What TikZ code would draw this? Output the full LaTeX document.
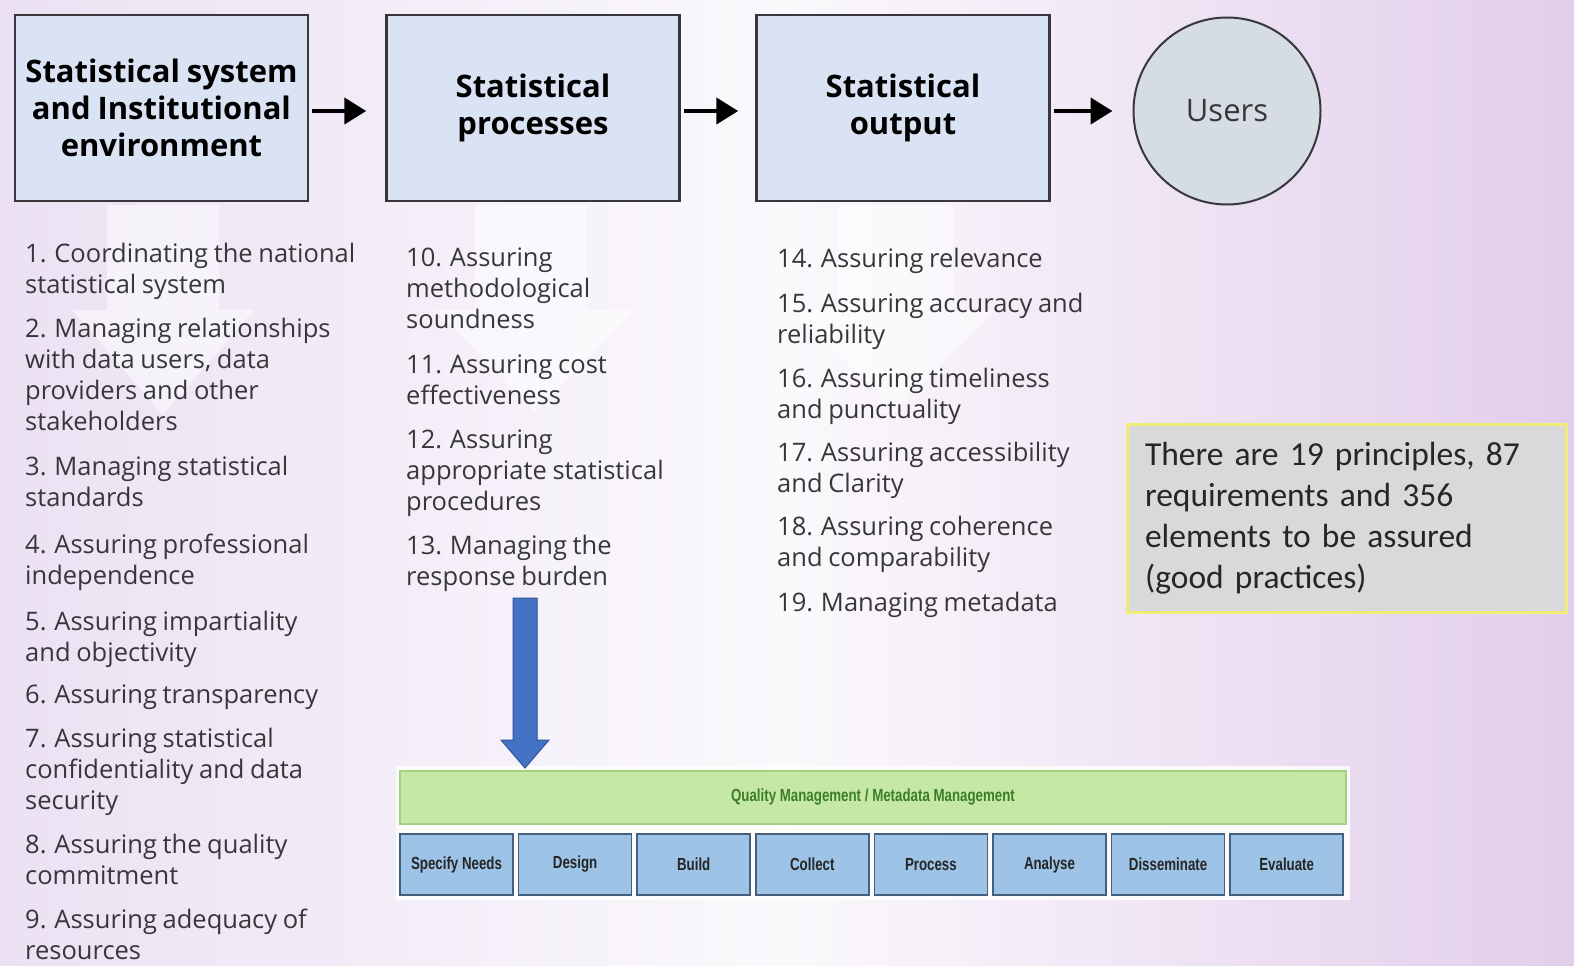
\documentclass[tikz,border=0pt]{standalone}
\usepackage{fontspec}
\setmainfont{Open Sans}[WordSpace=0.85]
\newfontfamily\calib{Carlito}[WordSpace=0.85]
\newfontfamily\cond{Liberation Sans}[FakeStretch=0.76]
\usetikzlibrary{arrows.meta,shapes.geometric}
\definecolor{bgL}{RGB}{235,225,243}
\definecolor{bgM}{RGB}{251,249,252}
\definecolor{bgR}{RGB}{226,206,235}
\definecolor{boxblue}{RGB}{218,227,243}
\definecolor{boxborder}{RGB}{55,55,60}
\definecolor{usersfill}{RGB}{214,220,228}
\definecolor{txt}{RGB}{55,55,58}
\definecolor{arrowblue}{RGB}{68,114,196}
\definecolor{arrowblueD}{RGB}{47,85,151}
\definecolor{qmgreen}{RGB}{197,233,165}
\definecolor{qmborder}{RGB}{160,210,130}
\definecolor{qmtext}{RGB}{60,125,40}
\definecolor{gblue}{RGB}{157,195,230}
\definecolor{gborder}{RGB}{70,95,125}
\definecolor{notefill}{RGB}{217,217,217}
\definecolor{noteborder}{RGB}{240,236,120}
\tikzset{
  titlebox/.style={draw=boxborder, line width=2.5pt, fill=boxblue, minimum width=293pt,
    minimum height=186pt, font=\bfseries\fontsize{31}{37}\selectfont, align=center, text=black},
  usersnode/.style={circle, draw=boxborder, line width=2pt, fill=usersfill, minimum size=187pt,
    font=\fontsize{31}{36}\selectfont, text=txt},
  conn/.style={line width=4.5pt, black, -{Triangle[length=22pt,width=26pt]}, shorten <=3pt},
  item/.style={anchor=north west, inner sep=0pt, align=left, font=\fontsize{25.5}{31}\selectfont, text=txt},
  qmbar/.style={draw=qmborder, line width=1.5pt, fill=qmgreen, minimum width=946pt, minimum height=53pt,
    font=\cond\bfseries\fontsize{17.5}{19}\selectfont, text=qmtext},
  gbox/.style={draw=gborder, line width=1.5pt, fill=gblue, minimum width=113pt, minimum height=61pt,
    font=\cond\bfseries\fontsize{17.5}{20}\selectfont, text=black!85},
  note/.style={draw=noteborder, line width=3pt, fill=notefill, text width=403pt, inner xsep=18pt,
    minimum height=188pt, align=left, font=\calib\fontsize{33.5}{41}\selectfont, text=black!85},
  faint/.style={fill=white, opacity=0.5}
}
\begin{document}
\begin{tikzpicture}[x=1pt,y=-1pt]
\useasboundingbox (0,0) rectangle (1574,966);
% background
\shade[left color=bgL, right color=bgR, middle color=bgM] (0,0) rectangle (1574,966);
% faint background arrows
\fill[faint] (107,205) -- (219,205) -- (219,310) -- (254,310) -- (163,415) -- (72,310) -- (107,310) -- cycle;
\fill[faint] (475,205) -- (587,205) -- (587,310) -- (635,310) -- (535,412) -- (435,310) -- (475,310) -- cycle;
\fill[faint] (838,205) -- (953,205) -- (953,310) -- (995,310) -- (895,412) -- (795,310) -- (838,310) -- cycle;

% top row
\node[titlebox] (b1) at (161.5,108) {Statistical system\\and Institutional\\environment};
\node[titlebox] (b2) at (533,108) {Statistical\\processes};
\node[titlebox] (b3) at (903,108) {Statistical\\output};
\node[usersnode] (users) at (1227,111) {Users};
\draw[conn, shorten >=19pt] ([yshift=-3pt]b1.east) -- ([yshift=-3pt]b2.west);
\draw[conn, shorten >=17pt] ([yshift=-3pt]b2.east) -- ([yshift=-3pt]b3.west);
\draw[conn, shorten >=20pt] ([yshift=-3pt]b3.east) -- (users.west);

% column 1
\node[item] (p1) at (25,243) {1. Coordinating the national\\statistical system};
\node[item] (p2) at (25,318) {2. Managing relationships\\with data users, data\\providers and other\\stakeholders};
\node[item] (p3) at (25,456) {3. Managing statistical\\standards};
\node[item] (p4) at (25,534) {4. Assuring professional\\independence};
\node[item] (p5) at (25,611) {5. Assuring impartiality\\and objectivity};
\node[item] (p6) at (25,685) {6. Assuring transparency};
\node[item] (p7) at (25,728) {7. Assuring statistical\\confidentiality and data\\security};
\node[item] (p8) at (25,834) {8. Assuring the quality\\commitment};
\node[item] (p9) at (25,909) {9. Assuring adequacy of\\resources};
% column 2
\node[item] (p10) at (406,248) {10. Assuring\\methodological\\soundness};
\node[item] (p11) at (406,355) {11. Assuring cost\\effectiveness};
\node[item] (p12) at (406,430) {12. Assuring\\appropriate statistical\\procedures};
\node[item] (p13) at (406,535) {13. Managing the\\response burden};
% column 3
\node[item] (p14) at (777,248) {14. Assuring relevance};
\node[item] (p15) at (777,293) {15. Assuring accuracy and\\reliability};
\node[item] (p16) at (777,368) {16. Assuring timeliness\\and punctuality};
\node[item] (p17) at (777,442) {17. Assuring accessibility\\and Clarity};
\node[item] (p18) at (777,516) {18. Assuring coherence\\and comparability};
\node[item] (p19) at (777,592) {19. Managing metadata};

% note
\node[note] (note) at (1346.5,518) {There are 19 principles, 87\\requirements and 356\\elements to be assured\\(good practices)};

% GSBPM panel
\fill[white, opacity=0.85] (396,766) rectangle (1350,900);
\node[qmbar] (qm) at (873,797.5) {Quality Management / Metadata Management};
\foreach \lab [count=\i] in {Specify Needs,Design,Build,Collect,Process,Analyse,Disseminate,Evaluate}
  \node[gbox] (g\i) at ({456.5+(\i-1)*118.6},864.5) {\lab};

% blue arrow
\filldraw[fill=arrowblue, draw=arrowblueD, line width=1pt]
  (513,598) -- (537,598) -- (537,740) -- (549,740) -- (525,768) -- (501,740) -- (513,740) -- cycle;
\end{tikzpicture}
\end{document}
